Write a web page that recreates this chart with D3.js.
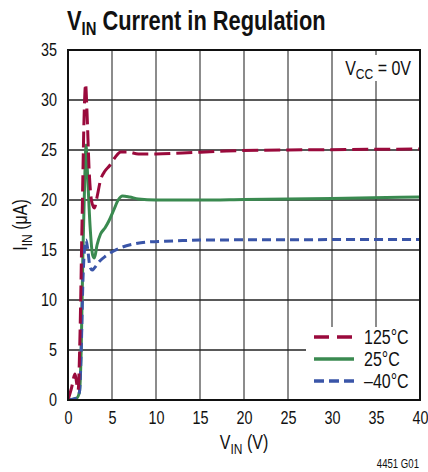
<!DOCTYPE html>
<html><head><meta charset="utf-8">
<script src="https://cdn.jsdelivr.net/npm/d3@7"></script>
<style>
body{margin:0;background:#fff;}
svg text{font-family:'Liberation Sans',Arial,sans-serif;fill:#111;}
</style></head>
<body>
<svg id="chart" width="428" height="472"></svg>
<script>
// ---- data ----
const xTicks = [0,5,10,15,20,25,30,35,40];
const yTicks = [0,5,10,15,20,25,30,35];
const seriesNames = ["125°C","25°C","–40°C"];
const seriesColors = ["#9a0a3c","#3a8a50","#3a55a8"];
const v125 = [0,0.4,0.8,1.0,1.15,1.35,1.6,1.85,2.0,2.15,2.4,2.7,3.0,3.3,3.7,4.2,4.7,5.3,6.0,6.8,8,10,13,18,25,32,40];
const i125 = [0,1.2,2.6,1.6,1.0,6,18,29,31.6,29,23,19.8,19.2,20.3,22,22.9,23.4,24.2,24.8,24.8,24.6,24.6,24.7,24.9,25.0,25.05,25.1];
const v25 = [0,1.0,1.3,1.5,1.7,1.9,2.05,2.2,2.5,2.8,3.0,3.3,3.7,4.2,4.7,5.2,5.7,6.2,7,8,10,15,20,30,40];
const i25 = [0,0.2,0.8,5,15,22,25.5,23,17.5,14.5,14.2,15.5,16.6,17.2,18,19,20,20.4,20.3,20.1,20.0,20.0,20.05,20.15,20.3];
const vm40 = [0,1.0,1.3,1.5,1.7,1.9,2.05,2.25,2.5,2.75,3.0,3.5,4.3,5.2,6.2,7.5,9,12,15,40];
const im40 = [0,0.2,0.8,5,12,15.3,16.0,15.0,13.3,13.0,13.2,13.8,14.4,14.9,15.3,15.6,15.8,15.9,16.0,16.05];

const series = [
  {name:seriesNames[0], color:seriesColors[0], dash:"16,6", v:v125, i:i125},
  {name:seriesNames[1], color:seriesColors[1], dash:null,   v:v25,  i:i25},
  {name:seriesNames[2], color:seriesColors[2], dash:"9,5",  v:vm40, i:im40}
];

const SX = 0.8; // horizontal condensing of text
function squeeze(node, sx){
  const s = d3.select(node);
  const x0 = +s.attr("x")||0, y0 = +s.attr("y")||0;
  const t = s.attr("transform")||"";
  s.attr("x",0).attr("y",0).attr("transform",`${t} translate(${x0},${y0}) scale(${sx},1)`);
}

const svg = d3.select("#chart");
const L=68, R=420, T=50, B=400;
const x = d3.scaleLinear().domain([0,40]).range([L,R]);
const y = d3.scaleLinear().domain([0,35]).range([B,T]);

// title
const title = svg.append("text").attr("x",67).attr("y",30)
  .style("font-size","28px").style("font-weight","bold");
title.append("tspan").text("V");
title.append("tspan").attr("dy",5).style("font-size","19px").text("IN");
title.append("tspan").attr("dy",-5).text(" Current in Regulation");
squeeze(title.node(), 0.78);

// grid
const g = svg.append("g");
g.selectAll(".vg").data(xTicks.slice(1,-1)).enter().append("line")
  .attr("x1",d=>x(d)).attr("x2",d=>x(d)).attr("y1",T).attr("y2",B)
  .attr("stroke","#8c8c8c").attr("stroke-width",2);
g.selectAll(".hg").data(yTicks.slice(1,-1)).enter().append("line")
  .attr("x1",L).attr("x2",R).attr("y1",d=>y(d)).attr("y2",d=>y(d))
  .attr("stroke","#222").attr("stroke-width",1.3);

// axes (labels only)
const xAxis = d3.axisBottom(x).tickValues(xTicks).tickSize(0).tickPadding(11);
const yAxis = d3.axisLeft(y).tickValues(yTicks).tickSize(0).tickPadding(11);
const gx = svg.append("g").attr("transform",`translate(0,${B})`).call(xAxis);
const gy = svg.append("g").attr("transform",`translate(${L},0)`).call(yAxis);
[gx,gy].forEach(a=>{a.select(".domain").remove();
  a.selectAll("text").style("font-size","18px").style("font-family","'Liberation Sans',Arial,sans-serif").attr("fill","#111")
   .each(function(){squeeze(this,SX);});});

// white boxes
svg.append("rect").attr("x",340).attr("y",55).attr("width",74).attr("height",26).attr("fill","#fff");
svg.append("rect").attr("x",306).attr("y",327).attr("width",R-306-1).attr("height",B-327-1).attr("fill","#fff");

// lines
const line = d3.line().x(d=>x(d[0])).y(d=>y(d[1])).curve(d3.curveMonotoneX);
svg.append("clipPath").attr("id","clp").append("rect").attr("x",L).attr("y",T).attr("width",R-L).attr("height",B-T);
const lg = svg.append("g").attr("clip-path","url(#clp)");
[series[1],series[2],series[0]].forEach(s=>{
  lg.append("path").datum(d3.zip(s.v,s.i)).attr("d",line)
    .attr("fill","none").attr("stroke",s.color).attr("stroke-width",3)
    .attr("stroke-dasharray",s.dash);
});

// frame
svg.append("rect").attr("x",L).attr("y",T).attr("width",R-L).attr("height",B-T)
  .attr("fill","none").attr("stroke","#111").attr("stroke-width",2);

// Vcc label
const vcc = svg.append("text").attr("x",411).attr("y",75).attr("text-anchor","end").style("font-size","20px");
vcc.append("tspan").text("V");
vcc.append("tspan").attr("dy",4).style("font-size","15px").text("CC");
vcc.append("tspan").attr("dy",-4).text(" = 0V");
squeeze(vcc.node(), SX);

// legend
series.forEach((s,k)=>{
  const yy = 337 + k*22;
  svg.append("line").attr("x1",314).attr("x2",354).attr("y1",yy).attr("y2",yy)
    .attr("stroke",s.color).attr("stroke-width",3.5).attr("stroke-dasharray",s.dash?(k===0?"15,8":"10,5"):null);
  const t = svg.append("text").attr("x",364).attr("y",yy+7).style("font-size","20px").text(s.name);
  squeeze(t.node(), SX);
});

// axis titles
const xt = svg.append("text").attr("x",244).attr("y",449).attr("text-anchor","middle").style("font-size","20px");
xt.append("tspan").text("V");
xt.append("tspan").attr("dy",5).style("font-size","15px").text("IN");
xt.append("tspan").attr("dy",-5).text(" (V)");
squeeze(xt.node(), SX);
const yt = svg.append("text").attr("transform","translate(27,225) rotate(-90)").attr("text-anchor","middle").style("font-size","20px");
yt.append("tspan").text("I");
yt.append("tspan").attr("dy",5).style("font-size","15px").text("IN");
yt.append("tspan").attr("dy",-5).text(" (μA)");
squeeze(yt.node(), SX);

const code = svg.append("text").attr("x",419).attr("y",468).attr("text-anchor","end").style("font-size","12px").text("4451 G01");
squeeze(code.node(), SX);
</script>
</body></html>
